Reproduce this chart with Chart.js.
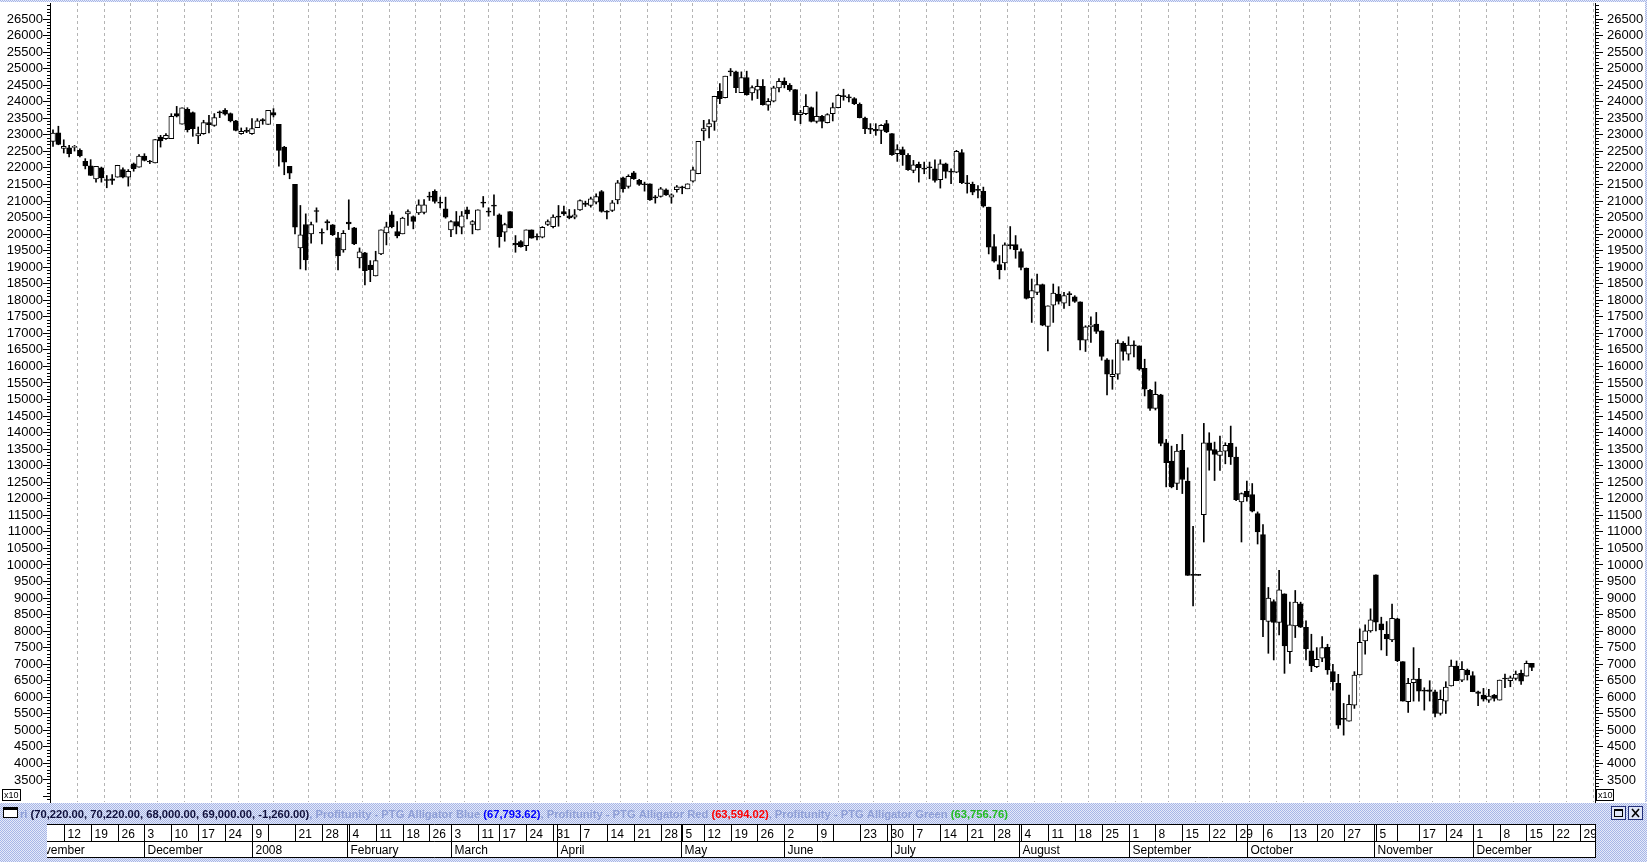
<!DOCTYPE html>
<html><head><meta charset="utf-8">
<script src="https://cdn.jsdelivr.net/npm/chart.js@4.4.1/dist/chart.umd.min.js"></script>
<style>html,body{margin:0;padding:0;background:#fff;overflow:hidden}#wrap{position:relative;width:1647px;height:862px}canvas{display:block}</style>
</head><body><div id="wrap"><canvas id="c" width="1647" height="862"></canvas></div>
<script>
// ---------------- DATA (values are x10 units as shown on the axis) ----------------
const opens  = [22800,23060,22590,22610,22620,22530,22200,22060,21670,22005,21620,21670,21720,21950,21720,22126,22026,22360,22180,22150,
 22935,22885,22885,23642,23320,23770,23672,22965,23036,23370,23288,23662,23743,23642,23420,23036,23117,23036,23218,23460,
 23318,23672,23318,22632,22046,21501,19582,20289,20006,20683,20026,20380,20279,19885,19521,20360,20188,19279,19430,19067,
 18733,19400,20036,20582,20077,20006,20612,20531,20642,20652,21117,21289,20935,20764,20127,20380,20208,20733,20289,20127,
 20935,20663,20845,20582,20056,20683,19723,19774,19652,20127,19905,19905,20289,20228,20511,20683,20551,20511,20733,20935,
 20865,20966,21288,20662,20712,21036,21702,21440,21854,21622,21520,21520,21096,21137,21339,21117,21339,21399,21369,21601,
 21823,23116,23237,23409,24318,24126,24924,24904,24278,24732,24268,24348,24470,23894,24015,24419,24621,24500,24369,23611,
 23641,23823,23409,23561,23369,23641,23823,24157,24116,24096,23924,23510,23167,23167,23136,23338,23035,22429,22551,22379,
 21925,22107,21965,22006,21975,21642,22127,21875,21875,22460,21521,21501,21319,21289,20814,19622,19077,19127,19652,19683,
 19470,18976,18067,18238,18471,17208,17855,18188,17915,18168,18107,17956,16794,17198,17279,17077,16198,15693,15764,16703,
 16370,16622,16622,15946,15279,14734,15138,13693,13137,12460,13460,12531,9683,9683,11521,13693,13490,13309,13440,13672,
 13258,11905,12228,12127,11551,10915,8289,8895,8259,9127,7380,8158,8824,8117,7400,6925,7178,7511,6774,6420,
 5330,5279,5764,6673,7703,8006,9703,8218,7905,7732,8369,7076,5864,6440,6551,6187,6228,6167,5510,5884,
 6339,6945,6520,6823,6652,6167,6066,5914,6066,5914,6551,6500,6571,6722,6641,7022];
const highs  = [23150,23260,22850,22680,22680,22580,22280,22250,22045,22026,21770,21800,22080,22000,21950,22150,22400,22430,22230,22860,
 22985,23036,23640,23860,23820,23820,23692,23238,23440,23591,23642,23722,23793,23662,23440,23208,23218,23490,23490,23490,
 23743,23793,23318,22652,22046,21501,20865,20612,20360,20794,20158,20430,20289,20056,20107,21036,20208,19582,19451,19198,
 19481,20127,20360,20683,20380,20511,20733,20551,21036,21046,21268,21339,21117,21117,20410,20683,20683,20814,20410,20733,
 21137,20794,21188,20612,20329,20683,19955,19804,20127,20127,20006,20228,20430,20582,20865,20845,20743,20743,21036,20996,
 21117,21218,21318,20712,21016,21622,21723,21793,21894,21652,21571,21520,21167,21410,21369,21218,21470,21450,21520,22026,
 22803,23439,23460,24167,24550,24773,25005,24924,24904,24924,24480,24672,24672,24096,24470,24702,24722,24550,24369,23742,
 24217,23843,24298,23591,23641,23965,24217,24379,24217,24126,23965,23540,23338,23338,23308,23439,23035,22702,22632,22430,
 22228,22177,22177,22177,22248,22248,22147,21975,22531,22551,21774,21572,21470,21420,20814,19986,19350,19733,20228,19955,
 19551,18976,18643,18794,18491,17835,18491,18410,18238,18259,18138,17956,17229,17501,17632,17077,16239,16198,16804,16754,
 16895,16774,16622,16218,15310,15532,15158,13794,13592,13642,13945,12935,11167,9683,14278,13996,13713,13894,13693,14197,
 13561,12177,12531,12460,11602,11218,9319,8946,9834,9127,8875,9228,8875,8309,7905,7501,7834,7602,6996,6693,
 5814,6067,6774,8067,8188,8673,9703,8420,8290,8813,8389,7076,6571,7500,6874,6288,6500,6217,6217,6470,
 7126,7096,7076,6854,6773,6187,6268,6238,6086,6520,6702,6642,6793,6823,7096,7022];
const lows   = [22650,22700,22450,22330,22510,22330,21970,21770,21570,21570,21400,21500,21720,21700,21450,21900,22026,22210,22130,22150,
 22630,22860,22885,23540,23320,23086,22955,22733,23016,23056,23258,23521,23591,23390,23117,23016,23066,23016,23218,23318,
 23318,23541,22056,21794,21672,20006,18946,18915,19723,20360,19703,20127,19956,18915,19451,20137,19683,18976,18461,18562,
 18733,19380,19673,20188,19885,20006,20259,20158,20592,20612,21016,20935,20794,20481,19925,20006,20006,20460,20006,20127,
 20814,20541,20562,19602,19784,20188,19451,19602,19501,19875,19824,19885,20259,20188,20238,20562,20460,20460,20713,20834,
 20814,20915,20662,20460,20682,20915,21268,21389,21652,21470,21298,21016,20935,21117,21167,20935,21268,21218,21369,21571,
 21823,22833,22904,23136,23944,24116,24783,24278,24278,24197,24045,24096,23894,23742,23995,24298,24419,24318,23439,23338,
 23611,23389,23358,23207,23358,23419,23813,24045,23995,23914,23510,23035,23035,22985,22732,23066,22379,22197,22076,21925,
 21854,21571,21824,21672,21571,21390,21693,21521,21854,21521,21238,21188,21097,20814,19400,19148,18643,18915,19551,19269,
 18915,18037,17330,18168,17229,16471,17330,17885,17754,17835,17935,16501,16451,16723,16996,16188,15138,15309,15612,16188,
 16188,16289,15885,15108,14673,14683,13600,12359,12329,12278,12157,9683,8764,9683,10693,12864,12551,12854,13056,13036,
 11945,10693,11925,11602,10632,7834,7329,7127,7885,6723,7026,7804,8107,7127,6774,6895,7077,6693,6218,5057,
 4855,5279,5663,6673,7299,7966,8006,7430,7260,7682,7076,5884,5541,5884,5884,5611,5884,5409,5460,5510,
 6339,6500,6470,6520,6167,5743,5884,5844,5884,5914,6288,6318,6520,6389,6641,6800];
const closes = [23050,22710,22650,22430,22630,22360,22060,21770,22045,21700,21620,21620,22080,21720,21900,21976,22360,22230,22180,22860,
 22815,22985,23561,23561,23820,23157,23187,23036,23370,23309,23521,23662,23622,23420,23137,23107,23107,23187,23420,23420,
 23743,23591,22531,22177,21844,20208,19976,19218,20289,20683,20026,20340,19986,19339,20026,20309,19703,19461,18895,18925,
 19198,20127,20218,20228,19945,20481,20683,20380,20885,20885,21117,20986,20935,20511,20380,20238,20551,20612,20380,20733,
 20935,20663,20845,19925,20289,20188,19673,19622,20127,19875,19905,20208,20380,20511,20511,20612,20491,20582,21016,20895,
 21066,21137,20682,20662,20945,21551,21369,21743,21672,21500,21490,21036,21096,21369,21187,21187,21430,21399,21520,21945,
 22803,23187,23338,24167,24096,24773,24904,24429,24732,24217,24429,24470,23914,24015,24419,24621,24520,24369,23611,23672,
 23864,23409,23561,23409,23611,23823,24197,24157,24116,23944,23520,23187,23167,23116,23288,23086,22399,22551,22400,21945,
 22097,22006,21965,22006,21622,22127,21895,21875,22501,21551,21521,21268,21319,20844,19602,19178,18925,19673,19652,19531,
 18996,18057,18289,18471,17249,17835,18218,17966,18138,18168,17966,16794,17198,17249,17057,16299,15764,15764,16703,16451,
 16642,16622,15916,15310,14734,15158,13672,13087,12359,13440,12581,9683,9683,9683,13693,13460,13339,13440,13612,13268,
 11975,12157,12056,11622,10996,8340,8996,8259,9248,7551,8188,8875,8117,7461,6946,7148,7501,6824,6471,5158,
 5330,5784,6673,7663,8006,8340,8269,8036,7764,8389,7106,5884,6419,6551,6187,6187,6177,5510,5935,6308,
 6945,6500,6844,6672,6167,6116,5945,6036,5965,6520,6551,6591,6702,6490,7025,6900];
const dayIndex = opens.map((_, i) => i);               // trading-day categories

// weekly grid / date-bar tick labels (trading-day index of each week's first session)
const weekTickIdx    = [2,7,12,17,22,27,32,37,45,50,55,60,65,70,74,79,83,88,93,98,103,108,113,117,121,126,131,136,142,150,155,160,165,170,175,180,185,190,195,200,205,210,215,220,225,230,235,240,246,254,259,264,269,274,279,284];
const weekTickLabels = ['12','19','26','3','10','17','24','9','21','28','4','11','18','26','3','11','17','24','31','7','14','21','28','5','12','19','26','2','9','23','30','7','14','21','28','4','11','18','25','1','8','15','22','29','6','13','20','27','5','17','24','1','8','15','22','29'];
const blankCellIdx   = [40,145,250];
const monthIdx       = [-5,17,37,54.6,74,93.8,116.7,136,155.8,179.6,200,222,245.6,264];
const monthLabels    = ['November','December','2008','February','March','April','May','June','July','August','September','October','November','December'];

const lastBar   = '(70,220.00, 70,220.00, 68,000.00, 69,000.00, -1,260.00)';
const indNames  = ['Profitunity - PTG Alligator Blue','Profitunity - PTG Alligator Red','Profitunity - PTG Alligator Green'];
const indValues = ['(67,793.62)','(63,594.02)','(63,756.76)'];

// ---------------- LAYOUT / STYLE ----------------
const W = 1647, H = 862;
const indColors = ['#0000ff','#ff0000','#22bb22'];
const FONT = "'Liberation Sans', Arial, sans-serif";

function makePattern(ctx){
  const p = document.createElement('canvas'); p.width = 2; p.height = 2;
  const g = p.getContext('2d');
  g.fillStyle = '#e6eaf8'; g.fillRect(0,0,2,2);
  g.fillStyle = '#a6b6e8'; g.fillRect(0,0,1,1); g.fillRect(1,1,1,1);
  return ctx.createPattern(p, 'repeat');
}

const chrome = {
  id: 'chrome',
  beforeDraw(chart){
    const c = chart.ctx; c.save(); c.fillStyle = '#fff'; c.fillRect(0,0,W,H); c.restore();
  },
  afterDraw(chart){
    const c = chart.ctx, xs = chart.scales.x, ca = chart.chartArea;
    const pat = makePattern(c);
    c.save();
    c.fillStyle = pat;
    c.fillRect(0, 0, W, 2);
    c.fillRect(W-2, 0, 2, ca.bottom);
    const sbTop = 803, r1 = 824, r2 = 841, r3 = 858;
    c.fillRect(0, sbTop, W, H - sbTop);
    // status icon
    c.fillStyle = '#fff'; c.fillRect(3, 807, 15, 11);
    c.strokeStyle = '#000'; c.lineWidth = 1; c.strokeRect(3.5, 807.5, 14, 10);
    c.fillStyle = '#000'; c.fillRect(3, 807, 15, 3);
    // status text
    let size = 10;
    c.font = `bold ${size}px ${FONT}`;
    const segs = [['ri ', '#8f9fd6'], [lastBar, '#10103c']];
    indNames.forEach((n, k) => { segs.push([', ' + n + ' ', '#8f9fd6']); segs.push([indValues[k], indColors[k]]); });
    const full = segs.map(s => s[0]).join('');
    size = size * 989 / c.measureText(full).width;
    c.font = `bold ${size}px ${FONT}`;
    c.textBaseline = 'alphabetic'; c.textAlign = 'left';
    let tx = 20;
    segs.forEach(([t, col]) => { c.fillStyle = col; c.fillText(t, tx, 818); tx += c.measureText(t).width; });
    // right icons
    [1611, 1628].forEach((ix, k) => {
      c.fillStyle = '#dfe5f7'; c.fillRect(ix, 806, 15, 14);
      c.strokeStyle = '#24307a'; c.strokeRect(ix + 0.5, 806.5, 14, 13);
      c.strokeStyle = '#000';
      if (k === 0) { c.strokeRect(ix + 3.5, 809.5, 8, 7); c.fillStyle = '#000'; c.fillRect(ix + 3, 809, 9, 2); }
      else { c.lineWidth = 1.6; c.beginPath(); c.moveTo(ix+4, 809); c.lineTo(ix+11, 817); c.moveTo(ix+11, 809); c.lineTo(ix+4, 817); c.stroke(); c.lineWidth = 1; }
    });
    // date bar
    const dl = 47, dr = ca.right + 1;
    c.fillStyle = '#fff'; c.fillRect(dl, r1, dr - dl, r3 - r1);
    c.beginPath(); c.rect(dl, r1, dr - dl, r3 - r1); c.clip();
    c.strokeStyle = '#000'; c.lineWidth = 1;
    c.beginPath();
    c.moveTo(dl, r1 + 0.5); c.lineTo(dr, r1 + 0.5);
    c.moveTo(dl, r2 + 0.5); c.lineTo(dr, r2 + 0.5);
    c.moveTo(dl, r3 - 0.5); c.lineTo(dr, r3 - 0.5);
    c.moveTo(dr - 0.5, r1); c.lineTo(dr - 0.5, r3);
    c.stroke();
    c.font = `12px ${FONT}`; c.fillStyle = '#000';
    const px = v => Math.round(xs.getPixelForValue(v)) + 0.5;
    weekTickIdx.forEach((v, k) => {
      const x = px(v);
      c.beginPath(); c.moveTo(x, r1); c.lineTo(x, r2); c.stroke();
      c.fillText(weekTickLabels[k], x + 3, r2 - 3);
    });
    blankCellIdx.forEach(v => { const x = px(v); c.beginPath(); c.moveTo(x, r1); c.lineTo(x, r2); c.stroke(); });
    monthIdx.forEach((v, k) => {
      const x = px(v);
      c.beginPath(); c.moveTo(x, r1); c.lineTo(x, r3); c.stroke();
      c.fillText(monthLabels[k], x + 3, r3 - 4);
    });
    c.restore();
    // x10 boxes
    c.save();
    c.strokeStyle = '#000'; c.fillStyle = '#fff'; c.lineWidth = 1;
    [[2, 18], [1596, 17]].forEach(([bx, bw]) => {
      c.fillRect(bx, 789, bw, 11); c.strokeRect(bx + 0.5, 789.5, bw, 11);
      c.fillStyle = '#000'; c.font = `9px ${FONT}`; c.fillText('x10', bx + 2, 798); c.fillStyle = '#fff';
    });
    c.restore();
  }
};

const bodies = dayIndex.map(i => ({ x: i, y: [opens[i], closes[i]] }));
const wicks  = dayIndex.map(i => ({ x: i, y: [lows[i], highs[i]] }));

const yTicks = s => { const t = []; for (let v = 2900; v <= 26900; v += 100) t.push({ value: v }); s.ticks = t; };
const isMajor = v => v % 500 === 0;
const noPad = s => { s.paddingTop = 0; s.paddingBottom = 0; s.paddingLeft = 0; s.paddingRight = 0; };

new Chart(document.getElementById('c'), {
  type: 'bar',
  data: { datasets: [
    { label: 'body', data: bodies, order: 0, grouped: false, barThickness: 5, minBarLength: 1,
      borderWidth: 1, borderSkipped: false, borderColor: '#000',
      backgroundColor: ctx => closes[ctx.dataIndex] > opens[ctx.dataIndex] ? '#ffffff' : '#000000' },
    { label: 'wick', data: wicks, order: 1, grouped: false, barThickness: 1, minBarLength: 1,
      borderWidth: 0, backgroundColor: '#000' }
  ]},
  options: {
    responsive: false, animation: false, events: [],
    layout: { padding: { top: 3, bottom: 60, left: 0, right: 0 } },
    plugins: { legend: { display: false }, tooltip: { enabled: false } },
    scales: {
      x: { type: 'linear', min: -0.558, max: 286.74, offset: false,
           afterBuildTicks: s => { s.ticks = weekTickIdx.map(v => ({ value: v })); },
           afterFit: s => { s.height = 0; noPad(s); },
           ticks: { display: false },
           grid: { drawTicks: false, color: '#b4b4b4', lineWidth: 1 },
           border: { display: false, dash: [3, 3] } },
      y: { type: 'linear', position: 'left', min: 2834, max: 26985,
           afterBuildTicks: yTicks, afterFit: s => { s.width = 50; noPad(s); },
           ticks: { autoSkip: false, padding: 0, color: '#000', font: { family: FONT, size: 13 },
                    callback: v => (isMajor(v) && v >= 3500) ? String(v) : '' },
           grid: { drawOnChartArea: false, tickLength: 7, tickColor: '#000', tickWidth: 1,
                   tickBorderDash: c => isMajor(c.tick.value) ? [] : [3, 4],
                   tickBorderDashOffset: c => isMajor(c.tick.value) ? 0 : 3 },
           border: { display: true, color: '#000', width: 1 } },
      y2: { type: 'linear', position: 'right', min: 2834, max: 26985,
           afterBuildTicks: yTicks, afterFit: s => { s.width = 52; noPad(s); },
           ticks: { autoSkip: false, padding: 4, color: '#000', font: { family: FONT, size: 13 },
                    callback: v => (isMajor(v) && v >= 3500) ? String(v) : '' },
           grid: { drawOnChartArea: false, tickLength: 8, tickColor: '#000', tickWidth: 1,
                   tickBorderDash: c => isMajor(c.tick.value) ? [] : [3, 5],
                   tickBorderDashOffset: 0 },
           border: { display: true, color: '#000', width: 1 } }
    }
  },
  plugins: [chrome]
});
</script>
</body></html>
